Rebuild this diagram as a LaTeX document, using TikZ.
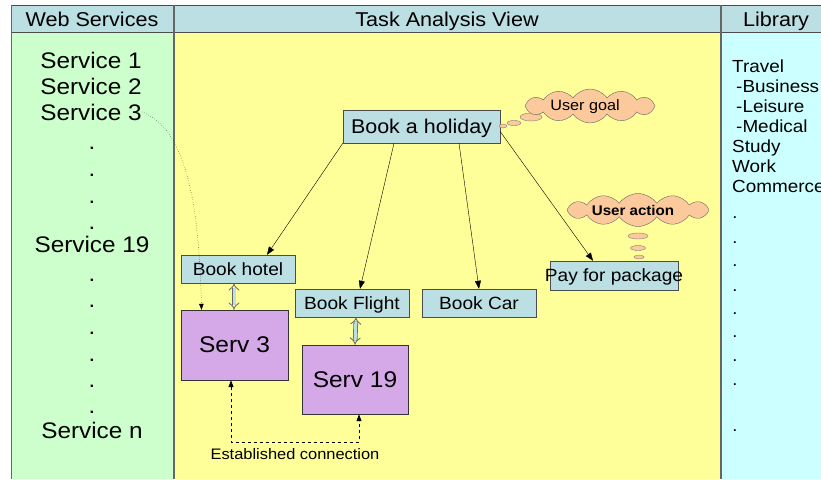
\documentclass[tikz,border=0pt]{standalone}
\usepackage{fontspec}
\setmainfont{Liberation Sans}[FakeStretch=1.08]
\usetikzlibrary{shapes.symbols,shapes.geometric,arrows.meta}
\definecolor{hdr}{HTML}{BCDFE4}
\definecolor{boxblue}{HTML}{BCDFE4}
\definecolor{wsgreen}{HTML}{CCFFCC}
\definecolor{taskyellow}{HTML}{FFFF99}
\definecolor{libcyan}{HTML}{CCFFFF}
\definecolor{servpurple}{HTML}{D5A8E8}
\definecolor{cloudpeach}{HTML}{FBC99B}
\tikzset{
  hdrtxt/.style={font=\fontsize{20}{21}\selectfont, inner sep=0pt, anchor=base},
  svc/.style={font=\fontsize{22.5}{23}\selectfont, inner sep=0pt, anchor=base},
  dotm/.style={font=\fontsize{22}{23}\selectfont, inner sep=0pt, anchor=base},
  libtxt/.style={font=\fontsize{17.5}{18}\selectfont, inner sep=0pt, anchor=base west},
  taskbox/.style={draw=black!70, fill=boxblue, font=\fontsize{17.7}{18}\selectfont, inner sep=0pt, text depth=0pt, minimum height=28pt},
  servbox/.style={draw=black!80, fill=servpurple, font=\fontsize{22.7}{23}\selectfont, inner sep=0pt, text depth=0pt},
  thought/.style={cloud, cloud puffs=12, cloud puff arc=110, aspect=3.8, draw=black!60, fill=cloudpeach, inner sep=0pt},
  bubble/.style={ellipse, draw=black!50, fill=cloudpeach, inner sep=0pt},
  link/.style={draw=black, -{Triangle[length=8pt,width=6pt]}},
  dbl/.style={double, double distance=3pt, draw=black!60, double=boxblue, thick, {Implies[]}-{Implies[]}},
}
\begin{document}
\begin{tikzpicture}[x=1pt,y=-1pt]
\useasboundingbox (0,0) rectangle (821,479);
\fill[white] (0,0) rectangle (821,479);
% columns
\fill[wsgreen] (11,32) rectangle (174,479);
\fill[taskyellow] (174,32) rectangle (721,479);
\fill[libcyan] (721,32) rectangle (821,479);
\fill[hdr] (11,5) rectangle (821,32);
\draw[black!70, line width=1pt] (11,5) -- (821,5);
\draw[black!70, line width=1pt] (11,32) -- (821,32);
\draw[black!60, line width=1pt] (11,5) -- (11,479);
\draw[black!60, line width=1.6pt] (174,5) -- (174,479);
\draw[black!60, line width=1.6pt] (721,5) -- (721,479);
% headers
\node[hdrtxt] (h1) at (92,26) {Web Services};
\node[hdrtxt] (h2) at (447,26) {Task Analysis View};
\node[hdrtxt] (h3) at (776,26) {Library};
% services
\node[svc] (s1) at (91,68) {Service 1};
\node[svc] (s2) at (91,94) {Service 2};
\node[svc] (s3) at (91,120) {Service 3};
\node[svc] (s19) at (92,252) {Service 19};
\node[svc] (sn) at (92,438) {Service n};
\node[dotm] (d1) at (92,149) {.};
\node[dotm] (d2) at (92,176) {.};
\node[dotm] (d3) at (92,203) {.};
\node[dotm] (d4) at (92,229) {.};
\node[dotm] (d5) at (92,281) {.};
\node[dotm] (d6) at (92,307) {.};
\node[dotm] (d7) at (92,334) {.};
\node[dotm] (d8) at (92,361) {.};
\node[dotm] (d9) at (92,387) {.};
\node[dotm] (d10) at (92,413) {.};
% library
\node[libtxt] (l1) at (732,72) {Travel};
\node[libtxt] (l2) at (736,92.5) {-Business};
\node[libtxt] (l3) at (736,112.5) {-Leisure};
\node[libtxt] (l4) at (736,132.5) {-Medical};
\node[libtxt] (l5) at (732,152.5) {Study};
\node[libtxt] (l6) at (732,172.5) {Work};
\node[libtxt] (l7) at (732,192.5) {Commerce};
\foreach \yy [count=\i] in {215,240,263,288,311,334,358,382,428}
  \node[dotm, font=\fontsize{17}{18}\selectfont] (ld\i) at (735,\yy+3) {.};
% task boxes
\node[taskbox, minimum width=157pt, minimum height=33pt, font=\fontsize{19.9}{20}\selectfont] (hol) at (421.5,126.5) {Book a holiday};
\node[taskbox, minimum width=114pt] (hotel) at (238,269) {Book hotel};
\node[taskbox, minimum width=114pt] (flight) at (352,303) {Book Flight};
\node[taskbox, minimum width=114pt] (car) at (479,303) {Book Car};
\node[taskbox, minimum width=128pt, minimum height=29pt] (pay) at (614,275.5) {};
\node[font=\fontsize{17.7}{18}\selectfont, inner sep=0pt, text depth=0pt] (paytxt) at (614,275.5) {Pay for package};
\node[servbox, minimum width=107pt, minimum height=70pt] (serv3) at (234.5,345) {Serv 3};
\node[servbox, minimum width=106pt, minimum height=69pt] (serv19) at (355,379.5) {Serv 19};
% thought clouds
\node[bubble, minimum width=8pt, minimum height=4pt] (gb3) at (503,126) {};
\node[bubble, minimum width=14pt, minimum height=5pt] (gb2) at (514,123) {};
\node[bubble, minimum width=22pt, minimum height=8pt] (gb1) at (531,117) {};
\node[thought, minimum width=130pt, minimum height=34pt] (goal) at (590,106) {};
\node[font=\fontsize{15}{16}\selectfont, inner sep=0pt] (goaltxt) at (585,107) {User goal};
\node[bubble, minimum width=20pt, minimum height=6pt] (ab1) at (638,236) {};
\node[bubble, minimum width=15pt, minimum height=5pt] (ab2) at (638,248) {};
\node[bubble, minimum width=10pt, minimum height=4pt] (ab3) at (639,257) {};
\node[thought, minimum width=142pt, minimum height=33pt] (act) at (638,210) {};
\node[font=\bfseries\fontsize{14}{15}\selectfont, inner sep=0pt] (acttxt) at (633,210) {User action};
% links
\draw[link] (hol.south west) -- ([xshift=29pt]hotel.north);
\draw[link] ([xshift=-27.5pt]hol.south) -- ([xshift=8pt]flight.north);
\draw[link] ([xshift=37.5pt]hol.south) -- (car.north);
\draw[link] ([yshift=-5pt]hol.east) -- ([xshift=-21pt]pay.north);
% double arrows
\draw[dbl] ([xshift=-4pt]hotel.south) -- ([xshift=-0.5pt]serv3.north);
\draw[dbl] ([xshift=4pt]flight.south) -- (serv19.north);
% dotted curve
\draw[dotted, -{Triangle[length=6pt,width=4.5pt]}] (s3.east) .. controls (185,128) and (199,200) .. ([xshift=-33pt]serv3.north);
% established connection
\coordinate (c1) at (231,442);
\coordinate (c2) at (359,442);
\draw[dashed, line width=0.8pt, {Triangle[length=7pt,width=5pt]}-{Triangle[length=7pt,width=5pt]}] ([xshift=-3.5pt]serv3.south) -- (c1) -- (c2) -- ([xshift=4pt]serv19.south);
\node[font=\fontsize{15.2}{16}\selectfont, inner sep=0pt] (estab) at (295,454) {Established connection};
\end{tikzpicture}
\end{document}
